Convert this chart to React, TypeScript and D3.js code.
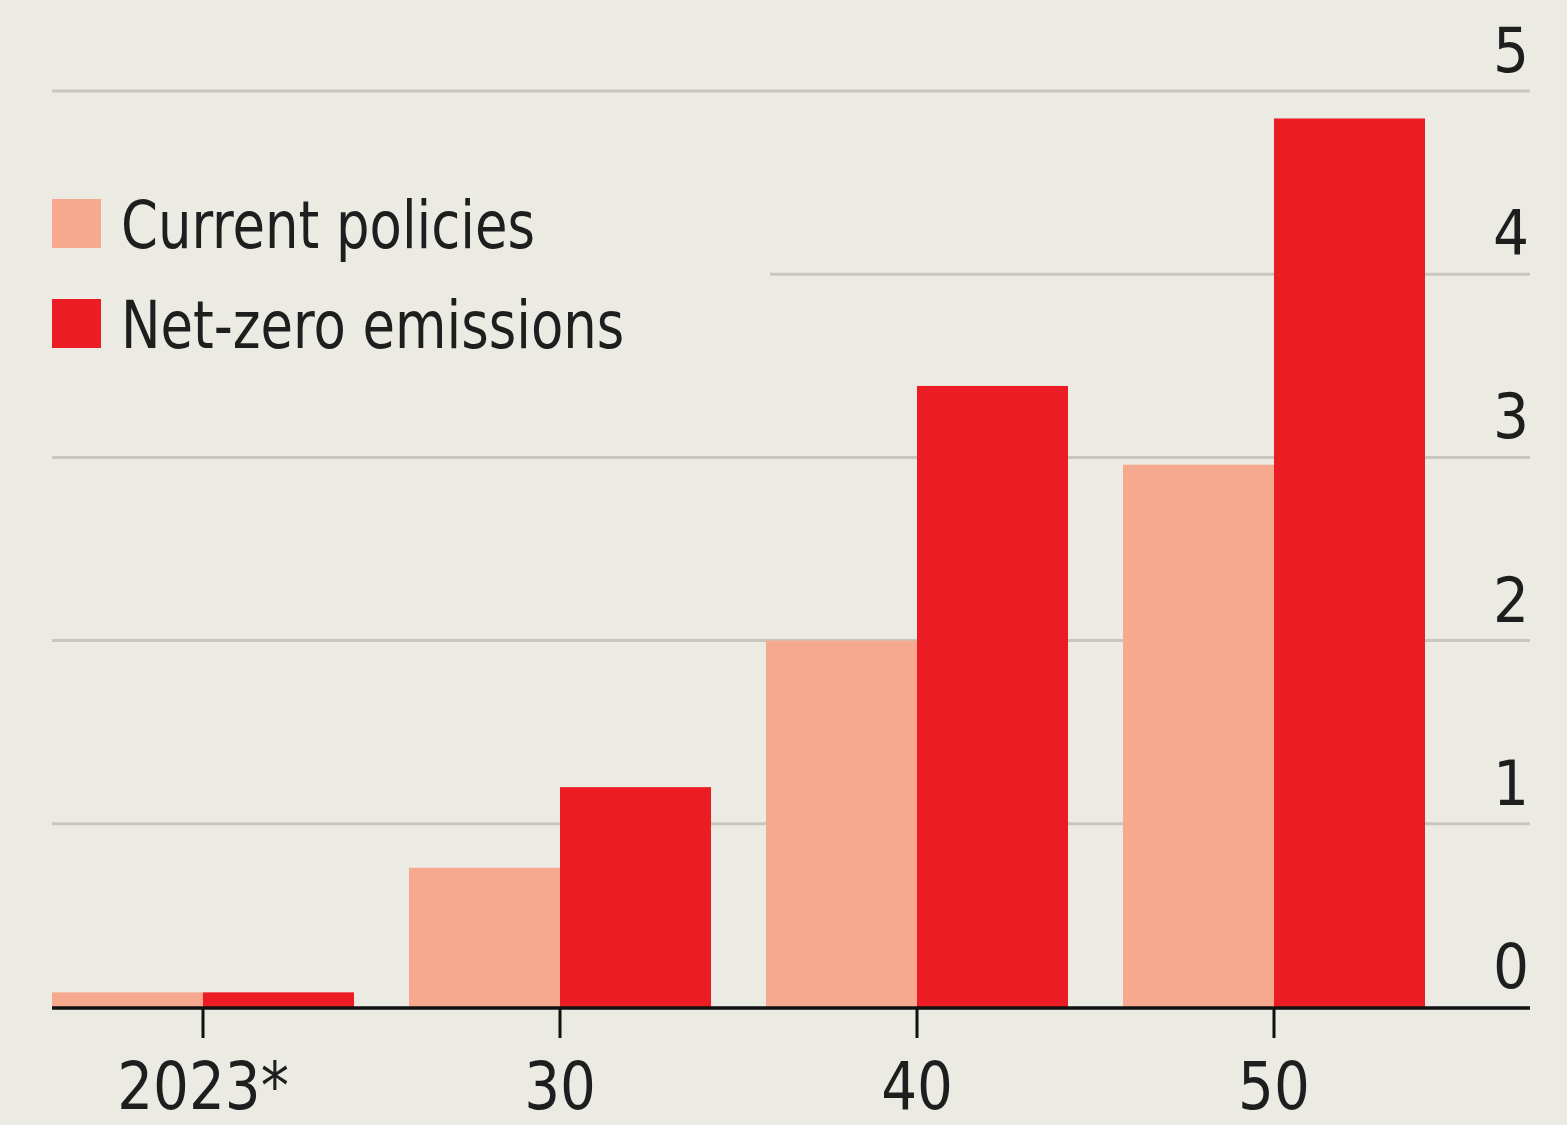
import React from "react";
import * as d3 from "d3";

const categories = ["2023*", "30", "40", "50"];
const currentPolicies = [0.08, 0.76, 2.0, 2.96];
const netZero = [0.08, 1.2, 3.39, 4.85];
const yTicks = [0, 1, 2, 3, 4, 5];
const seriesNames = ["Current policies", "Net-zero emissions"];

const W = 1567;
const H = 1125;
const BG = "#ecebe3";
const LIGHT = "#f6a98e";
const RED = "#ec1c24";
const GRID = "#c8c7bd";
const TEXT = "#1e1e1e";
const FONT = "'Liberation Sans Narrow', 'DejaVu Sans Condensed', 'Roboto', sans-serif";

export default function App() {
  const x = d3.scaleBand<string>().domain(categories).range([52, 1425]).paddingInner(0.154).paddingOuter(0);
  const y = d3.scaleLinear().domain([0, 5]).range([1007, 91]);
  const half = x.bandwidth() / 2;
  const gridLeft = 52;
  const gridRight = 1530;

  return (
    <svg width={W} height={H} style={{ position: "absolute", left: 0, top: 0 }} fontFamily={FONT}>
      <rect x={0} y={0} width={W} height={H} fill={BG} />
      {yTicks.filter((t) => t > 0).map((t) => (
        <line key={t} x1={t === 4 ? 770 : gridLeft} x2={gridRight} y1={y(t)} y2={y(t)} stroke={GRID} strokeWidth={3} />
      ))}
      {categories.map((c, i) => (
        <g key={c}>
          <rect x={x(c)!} y={y(currentPolicies[i])} width={half} height={y(0) - y(currentPolicies[i])} fill={LIGHT} />
          <rect x={x(c)! + half} y={y(netZero[i])} width={half} height={y(0) - y(netZero[i])} fill={RED} />
        </g>
      ))}
      <line x1={gridLeft} x2={gridRight} y1={y(0) + 1} y2={y(0) + 1} stroke="#111" strokeWidth={3.5} />
      {categories.map((c) => (
        <g key={c}>
          <line x1={x(c)! + half} x2={x(c)! + half} y1={y(0)} y2={y(0) + 31} stroke="#111" strokeWidth={3} />
          <text transform={`translate(${x(c)! + half},1109) scale(0.95,1)`} textAnchor="middle" fontSize={66} fill={TEXT}>{c}</text>
        </g>
      ))}
      {yTicks.map((t) => (
        <text key={t} x={1529} y={y(t) - 19} textAnchor="end" fontSize={63} fill={TEXT}>{t}</text>
      ))}
      {seriesNames.map((s, i) => (
        <g key={s}>
          <rect x={52} y={199 + i * 100} width={49} height={49} fill={i === 0 ? LIGHT : RED} />
          <text transform={`translate(121,${248 + i * 100}) scale(0.89,1)`} fontSize={66} fill={TEXT}>{s}</text>
        </g>
      ))}
    </svg>
  );
}
